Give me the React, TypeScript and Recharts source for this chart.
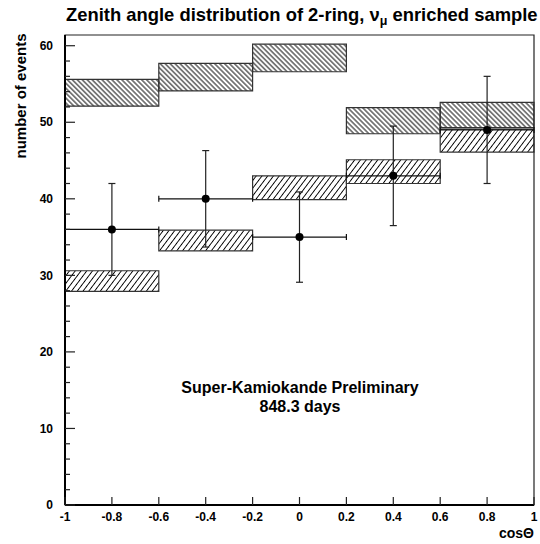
import React from 'react';
import { ComposedChart, XAxis, YAxis, Scatter, ErrorBar, ReferenceArea } from 'recharts';

// cosΘ bins
const binLow = [-1, -0.6, -0.2, 0.2, 0.6];
const binHigh = [-0.6, -0.2, 0.2, 0.6, 1];

// Monte Carlo expectation without oscillation (band: low / high)
const noOscLow = [52.1, 54.1, 56.6, 48.5, 49.3];
const noOscHigh = [55.6, 57.7, 60.2, 51.9, 52.6];

// Monte Carlo expectation with oscillation (band: low / high)
const oscLow = [27.9, 33.2, 39.9, 42.0, 46.1];
const oscHigh = [30.6, 35.9, 43.0, 45.1, 49.1];

// Observed data
const cosTheta = [-0.8, -0.4, 0, 0.4, 0.8];
const events = [36, 40, 35, 43, 49];
const eventErr = [6, 6.3, 5.9, 6.5, 7];
const binHalfWidth = [0.2, 0.2, 0.2, 0.2, 0.2];

// Axis ticks
const xTicks = [-1, -0.8, -0.6, -0.4, -0.2, 0, 0.2, 0.4, 0.6, 0.8, 1];
const xTickLabels = ['-1', '-0.8', '-0.6', '-0.4', '-0.2', '0', '0.2', '0.4', '0.6', '0.8', '1'];
const yTicks = [0, 2, 4, 6, 8, 10, 12, 14, 16, 18, 20, 22, 24, 26, 28, 30, 32, 34, 36, 38, 40, 42, 44, 46, 48, 50, 52, 54, 56, 58, 60];
const yMax = 61.4;

const FONT = '"Liberation Sans", Arial, Helvetica, sans-serif';

const points = cosTheta.map((x, i) => ({
  x,
  y: events[i],
  yErr: eventErr[i],
  xErr: binHalfWidth[i],
}));

const YTick = (props: any) => {
  const { x, y, payload } = props;
  const major = payload.value % 10 === 0;
  return (
    <g>
      <line x1={x} y1={y} x2={x + (major ? 10 : 5)} y2={y} stroke="#222" strokeWidth={1.2} />
      {major && (
        <text x={x - 12} y={y} dy="0.35em" textAnchor="end" fontFamily={FONT} fontWeight="bold" fontSize={12} fill="#000">
          {payload.value}
        </text>
      )}
    </g>
  );
};

const XTick = (props: any) => {
  const { x, y, payload } = props;
  const idx = xTicks.indexOf(payload.value);
  return (
    <g>
      <line x1={x} y1={y} x2={x} y2={y - 8} stroke="#222" strokeWidth={1.2} />
      <text x={x} y={y + 16} textAnchor="middle" fontFamily={FONT} fontWeight="bold" fontSize={12} fill="#000">
        {idx >= 0 ? xTickLabels[idx] : payload.value}
      </text>
    </g>
  );
};

const Dot = (props: any) => {
  const { cx, cy } = props;
  return <circle cx={cx} cy={cy} r={4} fill="#000" />;
};

export default function App() {
  return (
    <div style={{ position: 'absolute', left: 0, top: 0, width: 540, height: 544, background: '#fff' }}>
      <ComposedChart
        width={540}
        height={544}
        data={points}
        margin={{ top: 35, right: 6, left: 0, bottom: 0 }}
      >
        <defs>
          <pattern id="hatchBack" patternUnits="userSpaceOnUse" width={3.5} height={10} patternTransform="rotate(-45)">
            <line x1={1.75} y1={0} x2={1.75} y2={10} stroke="#000" strokeWidth={0.95} />
          </pattern>
          <pattern id="hatchFwd" patternUnits="userSpaceOnUse" width={4.6} height={10} patternTransform="rotate(37)">
            <line x1={2.3} y1={0} x2={2.3} y2={10} stroke="#000" strokeWidth={0.95} />
          </pattern>
        </defs>
        <XAxis
          dataKey="x"
          type="number"
          domain={[-1, 1]}
          ticks={xTicks}
          interval={0}
          height={39}
          tickSize={0}
          tickMargin={0}
          tickLine={false}
          tick={<XTick />}
          axisLine={{ stroke: '#000', strokeWidth: 2 }}
          allowDataOverflow
        />
        <YAxis
          type="number"
          domain={[0, yMax]}
          ticks={yTicks}
          interval={0}
          width={65}
          tickSize={0}
          tickMargin={0}
          tickLine={false}
          tick={<YTick />}
          axisLine={{ stroke: '#000', strokeWidth: 2 }}
          allowDataOverflow
        />
        <ReferenceArea x1={-1} x2={1} y1={0} y2={yMax} fill="none" stroke="#222" strokeWidth={1.2} ifOverflow="visible" />
        {binLow.map((lo, i) => (
          <ReferenceArea
            key={'n' + i}
            x1={lo}
            x2={binHigh[i]}
            y1={noOscLow[i]}
            y2={noOscHigh[i]}
            fill="url(#hatchBack)"
            fillOpacity={1}
            stroke="#333"
            strokeWidth={1.2}
            ifOverflow="visible"
          />
        ))}
        {binLow.map((lo, i) => (
          <ReferenceArea
            key={'o' + i}
            x1={lo}
            x2={binHigh[i]}
            y1={oscLow[i]}
            y2={oscHigh[i]}
            fill="url(#hatchFwd)"
            fillOpacity={1}
            stroke="#333"
            strokeWidth={1.2}
            ifOverflow="visible"
          />
        ))}
        <Scatter dataKey="y" shape={<Dot />} isAnimationActive={false}>
          <ErrorBar dataKey="yErr" direction="y" width={3.5} stroke="#222" strokeWidth={1.2} isAnimationActive={false} />
          <ErrorBar dataKey="xErr" direction="x" width={3} stroke="#111" strokeWidth={1.2} isAnimationActive={false} />
        </Scatter>
      </ComposedChart>
      <svg width={540} height={544} style={{ position: 'absolute', left: 0, top: 0, pointerEvents: 'none' }}>
        <text x={66} y={21} fontFamily={FONT} fontWeight="bold" fontSize={18.4} fill="#000">
          Zenith angle distribution of 2-ring, ν
          <tspan fontSize={12.5} dy={4}>μ</tspan>
          <tspan dy={-4}> enriched sample</tspan>
        </text>
        <text
          x={20}
          y={96}
          transform="rotate(-90 20 96)"
          textAnchor="middle"
          dominantBaseline="central"
          fontFamily={FONT}
          fontWeight="bold"
          fontSize={15}
          fill="#000"
        >
          number of events
        </text>
        <text x={534} y={538} textAnchor="end" fontFamily={FONT} fontWeight="bold" fontSize={14} fill="#000">
          cosΘ
        </text>
        <text x={300} y={393} textAnchor="middle" fontFamily={FONT} fontWeight="bold" fontSize={16} fill="#000">
          Super-Kamiokande Preliminary
        </text>
        <text x={300} y={412} textAnchor="middle" fontFamily={FONT} fontWeight="bold" fontSize={16} fill="#000">
          848.3 days
        </text>
      </svg>
    </div>
  );
}
